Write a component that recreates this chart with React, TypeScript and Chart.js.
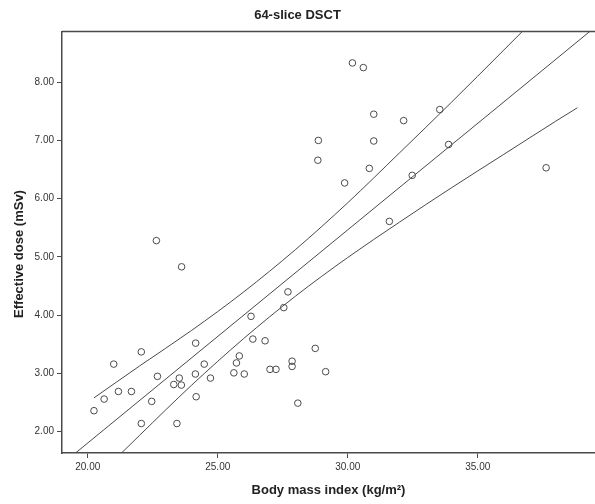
import React, { useEffect, useRef } from "react";
import { Chart, registerables } from "chart.js";

Chart.register(...registerables);

// Scatter data
const bmi = [
  20.24, 20.63, 21.0, 21.18, 21.68, 22.06, 22.46, 22.06, 22.68, 23.31,
  23.52, 23.6, 23.43, 24.15, 24.14, 24.17, 24.48, 24.72, 26.35, 26.82,
  25.83, 25.72, 25.62, 26.02, 27.01, 27.24, 27.86, 27.86, 28.75, 29.15,
  28.08, 22.64, 23.61, 26.28, 27.7, 27.54, 30.18, 30.6, 31.0, 32.15,
  33.54, 33.88, 28.87, 28.85, 31.0, 30.83, 29.88, 32.48, 31.6, 37.63,
];
const dose = [
  2.36, 2.56, 3.16, 2.69, 2.69, 3.37, 2.52, 2.14, 2.95, 2.81,
  2.92, 2.8, 2.14, 3.52, 2.99, 2.6, 3.16, 2.92, 3.59, 3.56,
  3.3, 3.18, 3.01, 2.99, 3.07, 3.07, 3.21, 3.12, 3.43, 3.03,
  2.49, 5.28, 4.83, 3.98, 4.4, 4.13, 8.33, 8.25, 7.45, 7.34,
  7.53, 6.93, 7.0, 6.66, 6.99, 6.52, 6.27, 6.4, 5.61, 6.53,
];

// Fitted line (read at its two ends)
const fitX = [19.0, 39.5];
const fitY = [1.44, 8.94];

// Upper 95% band
const upperX = [20.24, 22, 24, 26, 28, 30, 32, 34, 36, 37.63];
const upperY = [2.58, 3.13, 3.74, 4.4, 5.13, 5.93, 6.79, 7.66, 8.55, 9.28];

// Lower 95% band
const lowerX = [20.24, 22, 24, 26, 28, 30, 32, 34, 36, 38, 38.83];
const lowerY = [1.17, 1.94, 2.8, 3.6, 4.33, 4.99, 5.6, 6.19, 6.76, 7.33, 7.56];

const xTicks = [20, 25, 30, 35];
const yTicks = [2, 3, 4, 5, 6, 7, 8];

const titleText = "64-slice DSCT";
const xTitle = "Body mass index (kg/m\u00B2)";
const yTitle = "Effective dose (mSv)";

const FONT = "'Liberation Sans', Arial, sans-serif";
const INK = "#4a4a4a";

const frame = {
  id: "frame",
  afterDraw(chart: any) {
    const { ctx, chartArea } = chart;
    ctx.save();
    ctx.strokeStyle = INK;
    ctx.lineWidth = 1.5;
    ctx.beginPath();
    ctx.moveTo(chartArea.left, chartArea.top);
    ctx.lineTo(chart.width, chartArea.top);
    ctx.stroke();
    // y-axis title, placed a little below the plot centre as in the reference
    ctx.fillStyle = "#222";
    ctx.font = `bold 13px ${FONT}`;
    ctx.textAlign = "center";
    ctx.textBaseline = "middle";
    ctx.translate(19, 254);
    ctx.rotate(-Math.PI / 2);
    ctx.fillText(yTitle, 0, 0);
    ctx.restore();
  },
};

export default function App() {
  const ref = useRef<HTMLCanvasElement | null>(null);

  useEffect(() => {
    if (!ref.current) return;
    const toPts = (xs: number[], ys: number[]) => xs.map((x, i) => ({ x, y: ys[i] }));
    const lineStyle = {
      showLine: true,
      pointRadius: 0,
      borderColor: INK,
      borderWidth: 1,
      backgroundColor: "transparent",
      fill: false,
    };
    const chart = new Chart(ref.current, {
      type: "scatter",
      data: {
        datasets: [
          {
            label: "Observed",
            data: toPts(bmi, dose),
            pointStyle: "circle",
            pointRadius: 3.3,
            pointBorderWidth: 1,
            borderColor: INK,
            backgroundColor: "transparent",
            showLine: false,
          },
          { label: "Linear", data: toPts(fitX, fitY), ...lineStyle },
          { label: "Upper", data: toPts(upperX, upperY), ...lineStyle, cubicInterpolationMode: "monotone" },
          { label: "Lower", data: toPts(lowerX, lowerY), ...lineStyle, cubicInterpolationMode: "monotone" },
        ] as any,
      },
      options: {
        animation: false,
        responsive: false,
        maintainAspectRatio: false,
        devicePixelRatio: 1,
        layout: { padding: 0, autoPadding: false },
        plugins: {
          legend: { display: false },
          tooltip: { enabled: false },
          title: {
            display: true,
            text: titleText,
            color: "#222",
            font: { family: FONT, size: 13, weight: "bold" },
            padding: { top: 8, bottom: 8 },
          },
        },
        scales: {
          x: {
            type: "linear",
            min: 19.01,
            max: 39.51,
            afterBuildTicks: (s: any) => {
              s.ticks = xTicks.map((v) => ({ value: v }));
            },
            afterFit: (s: any) => {
              s.height = 51;
              s.paddingLeft = 0;
              s.paddingRight = 0;
            },
            ticks: {
              color: "#333",
              font: { family: FONT, size: 10 },
              padding: 3,
              maxRotation: 0,
              callback: (v: any) => Number(v).toFixed(2),
            },
            grid: { drawOnChartArea: false, drawTicks: true, tickLength: 5, color: INK },
            border: { display: true, color: INK, width: 1.5 },
            title: {
              display: true,
              text: xTitle,
              color: "#222",
              font: { family: FONT, size: 13, weight: "bold" },
              padding: { top: 4, bottom: 6 },
            },
          },
          y: {
            type: "linear",
            min: 1.634,
            max: 8.868,
            afterBuildTicks: (s: any) => {
              s.ticks = yTicks.map((v) => ({ value: v }));
            },
            afterFit: (s: any) => {
              s.width = 62;
              s.paddingTop = 0;
              s.paddingBottom = 0;
            },
            ticks: {
              color: "#333",
              font: { family: FONT, size: 10 },
              padding: 3,
              callback: (v: any) => Number(v).toFixed(2),
            },
            grid: { drawOnChartArea: false, drawTicks: true, tickLength: 5, color: INK },
            border: { display: true, color: INK, width: 1.5 },
            title: { display: false },
          },
        },
      },
      plugins: [frame],
    });
    return () => chart.destroy();
  }, []);

  return (
    <div style={{ position: "fixed", left: 0, top: 0, width: 595, height: 504, background: "#fff", overflow: "hidden" }}>
      <canvas ref={ref} width={595} height={504} style={{ display: "block" }} />
    </div>
  );
}
